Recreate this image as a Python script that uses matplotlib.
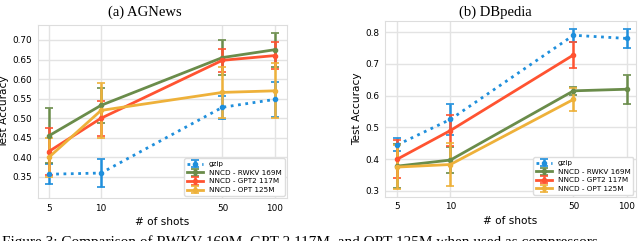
import numpy as np
import matplotlib
matplotlib.use("Agg")
import matplotlib.pyplot as plt
from matplotlib.ticker import FixedLocator, NullLocator

shots = [5, 10, 50, 100]
labels = ['gzip', 'NNCD - RWKV 169M', 'NNCD - GPT2 117M', 'NNCD - OPT 125M']
colors = ['#1f8fdc', '#6a8c4a', '#ff5331', '#eeb13a']

# AGNews: mean and error per series
ag_gzip = [0.357, 0.360, 0.528, 0.548]
ag_gzip_err = [0.025, 0.035, 0.030, 0.045]
ag_rwkv = [0.455, 0.533, 0.655, 0.675]
ag_rwkv_err = [0.070, 0.045, 0.045, 0.043]
ag_gpt2 = [0.415, 0.500, 0.648, 0.660]
ag_gpt2_err = [0.060, 0.045, 0.030, 0.035]
ag_opt = [0.400, 0.520, 0.566, 0.570]
ag_opt_err = [0.050, 0.070, 0.065, 0.070]

# DBpedia
db_gzip = [0.445, 0.525, 0.790, 0.780]
db_gzip_err = [0.020, 0.050, 0.020, 0.030]
db_rwkv = [0.378, 0.397, 0.615, 0.620]
db_rwkv_err = [0.070, 0.040, 0.012, 0.045]
db_gpt2 = [0.400, 0.490, 0.728, np.nan]
db_gpt2_err = [0.060, 0.050, 0.042, np.nan]
db_opt = [0.375, 0.383, 0.588, np.nan]
db_opt_err = [0.070, 0.068, 0.035, np.nan]

plt.rcParams['font.family'] = 'DejaVu Sans'
fig = plt.figure(figsize=(6.4, 2.41), dpi=100)


def draw(ax, series, errs, xlim, ylim, yticks, yfmt, ylab_x):
    for i, (y, e) in enumerate(zip(series, errs)):
        ls = ':' if i == 0 else '-'
        ax.errorbar(shots, y, yerr=e, color=colors[i], ls=ls, lw=2.0,
                    marker='o', ms=3, capsize=3, elinewidth=1.8, capthick=1.2,
                    label=labels[i])
    ax.set_xscale('log')
    ax.set_xlim(*xlim)
    ax.set_ylim(*ylim)
    ax.xaxis.set_major_locator(FixedLocator(shots))
    ax.xaxis.set_minor_locator(NullLocator())
    ax.set_xticklabels([str(s) for s in shots])
    ax.set_yticks(yticks)
    ax.set_yticklabels([yfmt.format(v) for v in yticks])
    ax.grid(True, color='#e3e3e3', lw=1)
    ax.set_axisbelow(True)
    for s in ax.spines.values():
        s.set_color('#dddddd')
    ax.tick_params(length=0, labelsize=6.4, pad=4)
    ax.set_xlabel('# of shots', fontsize=7.6, labelpad=3)
    ax.set_ylabel('Test Accuracy', fontsize=7.6)
    ax.yaxis.set_label_coords(ylab_x, 0.5)
    leg = ax.legend(loc='lower right', fontsize=5.2, handlelength=2.2,
                    borderpad=0.4, labelspacing=0.35, framealpha=1,
                    borderaxespad=0.3)
    leg.get_frame().set_edgecolor('#dddddd')


ax1 = fig.add_axes([0.059, 0.178, 0.389, 0.718])
draw(ax1, [ag_gzip, ag_rwkv, ag_gpt2, ag_opt],
     [ag_gzip_err, ag_rwkv_err, ag_gpt2_err, ag_opt_err],
     (4.32, 117.3), (0.296, 0.738),
     [0.35, 0.40, 0.45, 0.50, 0.55, 0.60, 0.65, 0.70], '{:.2f}', -0.117)

ax2 = fig.add_axes([0.602, 0.183, 0.391, 0.730])
draw(ax2, [db_gzip, db_rwkv, db_gpt2, db_opt],
     [db_gzip_err, db_rwkv_err, db_gpt2_err, db_opt_err],
     (4.27, 112.5), (0.281, 0.835),
     [0.3, 0.4, 0.5, 0.6, 0.7, 0.8], '{:.1f}', -0.092)

fig.text(145 / 640, 1 - 12 / 241, '(a) AGNews', ha='center', va='center',
         family='Liberation Serif', fontsize=10.5)
fig.text(495 / 640, 1 - 12 / 241, '(b) DBpedia', ha='center', va='center',
         family='Liberation Serif', fontsize=10.5)
fig.text(2 / 640, 1 - 246 / 241,
         'Figure 3: Comparison of RWKV 169M, GPT-2 117M, and OPT 125M when used as compressors.',
         ha='left', va='baseline', family='Liberation Serif', fontsize=11)

fig.savefig('out.png', dpi=100)
